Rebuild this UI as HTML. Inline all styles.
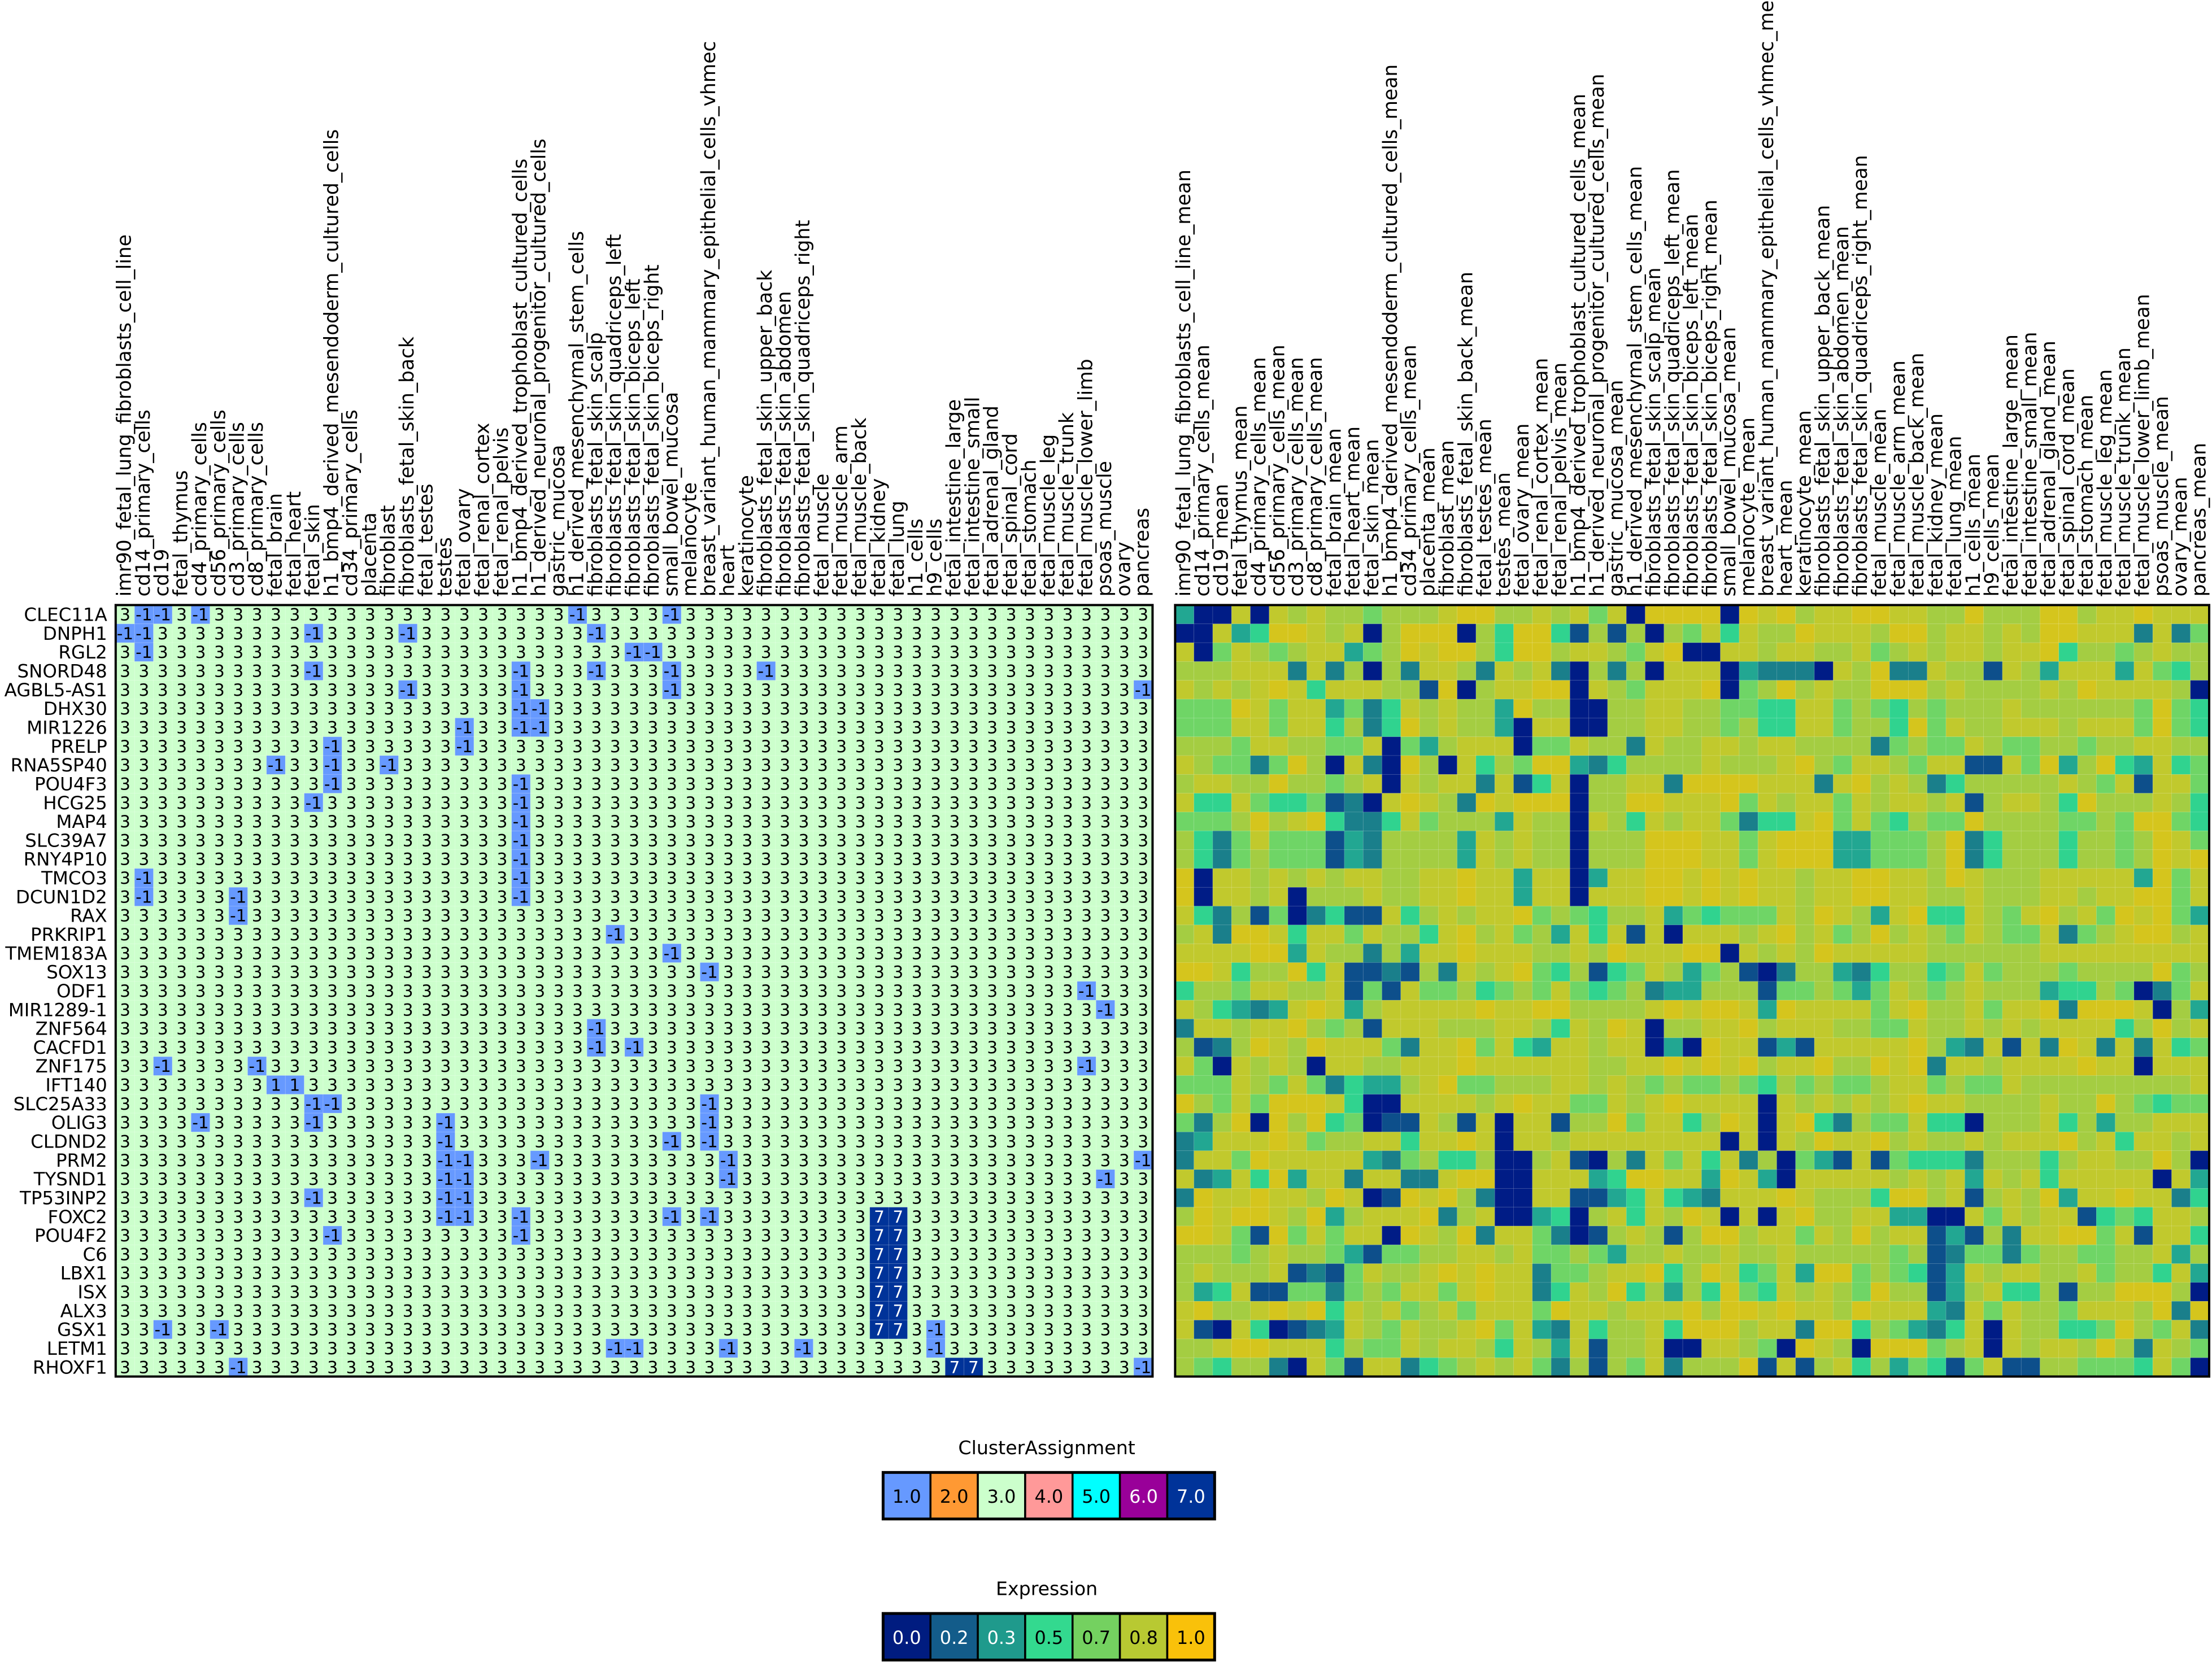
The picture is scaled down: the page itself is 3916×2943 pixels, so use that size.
<!DOCTYPE html>
<html><head><meta charset="utf-8"><style>
html,body{margin:0;padding:0;background:#fff;}
svg{display:block;}
text{font-family:"DejaVu Sans","Liberation Sans",sans-serif;}
</style></head><body>
<svg id="s" xmlns="http://www.w3.org/2000/svg" width="3916" height="2943" viewBox="0 0 1568 1178.4">
<rect width="1568" height="1178.4" fill="#fff"/>
<g id="g"></g>
<text x="742" y="1031" font-size="13.3" text-anchor="middle">ClusterAssignment</text>
<text x="742" y="1131" font-size="13.3" text-anchor="middle">Expression</text>
</svg>
<script>
var cols=["imr90_fetal_lung_fibroblasts_cell_line","cd14_primary_cells","cd19","fetal_thymus","cd4_primary_cells","cd56_primary_cells","cd3_primary_cells","cd8_primary_cells","fetal_brain","fetal_heart","fetal_skin","h1_bmp4_derived_mesendoderm_cultured_cells","cd34_primary_cells","placenta","fibroblast","fibroblasts_fetal_skin_back","fetal_testes","testes","fetal_ovary","fetal_renal_cortex","fetal_renal_pelvis","h1_bmp4_derived_trophoblast_cultured_cells","h1_derived_neuronal_progenitor_cultured_cells","gastric_mucosa","h1_derived_mesenchymal_stem_cells","fibroblasts_fetal_skin_scalp","fibroblasts_fetal_skin_quadriceps_left","fibroblasts_fetal_skin_biceps_left","fibroblasts_fetal_skin_biceps_right","small_bowel_mucosa","melanocyte","breast_variant_human_mammary_epithelial_cells_vhmec","heart","keratinocyte","fibroblasts_fetal_skin_upper_back","fibroblasts_fetal_skin_abdomen","fibroblasts_fetal_skin_quadriceps_right","fetal_muscle","fetal_muscle_arm","fetal_muscle_back","fetal_kidney","fetal_lung","h1_cells","h9_cells","fetal_intestine_large","fetal_intestine_small","fetal_adrenal_gland","fetal_spinal_cord","fetal_stomach","fetal_muscle_leg","fetal_muscle_trunk","fetal_muscle_lower_limb","psoas_muscle","ovary","pancreas"];
var rows=["CLEC11A","DNPH1","RGL2","SNORD48","AGBL5-AS1","DHX30","MIR1226","PRELP","RNA5SP40","POU4F3","HCG25","MAP4","SLC39A7","RNY4P10","TMCO3","DCUN1D2","RAX","PRKRIP1","TMEM183A","SOX13","ODF1","MIR1289-1","ZNF564","CACFD1","ZNF175","IFT140","SLC25A33","OLIG3","CLDND2","PRM2","TYSND1","TP53INP2","FOXC2","POU4F2","C6","LBX1","ISX","ALX3","GSX1","LETM1","RHOXF1"];
var neg={0:[1,2,4,24,29],1:[0,1,10,15,25],2:[1,27,28],3:[10,21,25,29,34],4:[15,21,29,54],5:[21,22],6:[18,21,22],7:[11,18],8:[8,11,14],9:[11,21],10:[10,21],11:[21],12:[21],13:[21],14:[1,21],15:[1,6,21],16:[6],17:[26],18:[29],19:[31],20:[51],21:[52],22:[25],23:[25,27],24:[2,7,51],25:[8,9],26:[10,11,31],27:[4,10,17,31],28:[17,29,31],29:[17,18,22,32,54],30:[17,18,32,52],31:[10,17,18],32:[17,18,21,29,31],33:[11,21],38:[2,5,43],39:[26,27,32,36,43],40:[6,54]};
var sev={32:[40,41],33:[40,41],34:[40,41],35:[40,41],36:[40,41],37:[40,41],38:[40,41],40:[44,45]};
var E=["SNNONOLOLLGLLLOYYLLOLOGONYYYYNYOYLOOYYOOLLYLLLYYLOOYOOO",
"NNOSQYYOLONLYYYNLQYYQBLBLNLGOQOLLYOOOLYYLOOLOLYYOOOTOTG",
"ONGOLGLOOSGLYOYYLQYYLOOLGOYNNOOLOOLLOGLOLOOLOOYQLLGLOLL",
"LLLOOOTOTLNLTOOLTOLOTNLTLNOOONSTTTNOLYTTOLLBOLSOOOSOGQL",
"OLOLOYOQOOOLLBYNLOOYYNOLGOOOYNGLYLOLLYYYLOLLLLOLYOOOOLN",
"GGGYOGOOSGTQOLOLLSYLLNNLLOOLLGGQQOOGLGQLGLLLOLLLLLLGYGQ",
"GGGOOGOOQLTQYLOLLSNOONNLLOOLLGLQQOOGLLQYGOLLOOOLOOOGYGQ",
"LLLGOOLLGGONGSLOOONGGOLLTOLLOOLOOLLLLTGLGGOLGGLLGLLOOLL",
"OLGGTGYLNOTNYLNOQLGYYSTQLLLLOLLLOYLGOOLGOOBBOGYSLYQSOQG",
"LOOLLYLLGLONOLOOTOBQONLLOOTYYYYOOOTOYLOLTQLLLLLOLGOBOOG",
"OQQOGQQGBTNOYOLTYOYYYNLLYYOOOYGOLOOGOLOOLOBLOOLQYLLLOLQ",
"GGGLYLOYQTTQOGLLLSOLLNOLQOLOOGTQQOYGOGQLGGYLLLLGGLGYYGQ",
"LQTGOGGGBSTLLLLSOLOLLNLLLYYYOOGOYYYSSGGGLYTQLLLQLLGLYOG",
"LQTGLGGGBSTLLLLSOLOLLNLLLYYYOOGOYYYSSGGGLYTQLLLQLLGLYOY",
"YNOOLOLOLOOLLOOYOOSOONSOOYYOYOYOOLOOYYOOLYOLLLOOOOOSYGO",
"YNOOLONLLLOLLOOYOOSOONOOOYYOYOYOOLOOYYOOLLOLLLOOLOOYYGO",
"OQTLBGNTQBBOQLOLOOYGLGQLLOSGQGGGOLYOLSOYQQOLGOYLOGYOYGS",
"LOTYYOQOOGOLLQOYLOGLSOQOBONOOOLOYLOGLYLOLGOLGGOTGLOYYLO",
"OOOOYYSOLLTLSOOYOOOLLOLYOOOYYNOLOLYOOOOOLLLLLLOOOOOOOOO",
"YYOQLLYQOBBTBLTOLOYGQLBQGOLSGLBNTLLSTQLLQGOGLLLGLLLLYGL",
"QLLGOOLLOBGBOGGLQGLGOGQGLTSSLLLBGGLGSGOLGLOLLLSQQLGNTGO",
"OLQSTSOYOSLOOOOOYOOYYLLLLOYOYYOSYOOOOGOYLLOGOOYTYYYONLS",
"TOOLOOYLGLBOOOLLLOOLQOLYONLLOOYLOOOLLGGOLLOLOLOOOOQLYLO",
"LBTLYOLYOOOGTOOYGOQSOOLOONSNYOOBSBOOOOOYLSTOBOTYOTOTOQG",
"OGNOLOLNOOLLOOOYOOOOOOLLOOYOYOYLOOYLLYOYTOOLOOOOYOONOOO",
"GGGOLGOGTQSSLOYGGLLLOOLOLGLGGLGQLGLGGLOOGLGGOLLLLLLLLLO",
"YLGOGYYYOQNNOOOOLOYOOGGOLOYOOOONOLOLOLOYOOLLLLOLLYLGQGG",
"GTLYNYLYQGNBBOLBONOOBLLYGOOQLYONOYQTLGGOQQNLLLOQLSLLOOO",
"TSOOOYOGLLOOQOOYONOOLOOOOOOOONONOLYOOYLOLLOLOOOYLOQOOLO",
"TOOGYOOOOOSTGLQQLNNLOBNLTOGOQOTLNGSBOBGQQQTLLLQLOOLLYLN",
"OTSOQYSOOTOOTTOYYNNOOOSQYYOOSYOSNOOOOOLOLOSOLOQOOOOONOS",
"TYOOYOOLYONBYOYLTNNOOBBSQOQSTOOOYOLLLQYYLOBLOLYSOOYOOTQ",
"LYOYYOLYSLOOOYTLONNSQNLOQOLYONONOYLLOOSSNNOGOLOOBQGQOOL",
"YYOGBYGOGOONYOLYTOOGTNBLOLBLYYLOOGOLYLOOBSBLTOOYYGOBOOQ",
"LLLGLOLLGSBGGLLOOLOGGLGSLLOLLOLLOLLLLLGLBTGGTGLLGGLLOSL",
"LOLLLOBTBGOLLOYOYOOTGGLOOYQLYOQGOSYYGLGQBSOLOOLLOGLLQOS",
"LSQOBBGGTGLGOOGOYOOTQOLYQLSLQYGQOLOLGYLLBSLOQQLBLLYYYLN",
"OYLLOYOYQOLOGLOGOOOGYOOLOOOYLYYOYOOLYOOOSTOGOLLGOOOLYTY",
"OBNOQNBTSOLGOLLOYGOSTOQLLOQYYYLOOTYYQLGSTQONOLLQQGYLGOT",
"LLOYYOOOQLGGOLOOLQOLSOBLLONNOOLGNYOLNYYYGLONOLOOLYLTOLG",
"LGQLLTNOGBOOTQGLOLOGTLBLGOTLLLYBOBLOQLSGQBGOBBLLGGGQOGN"];
var C={N:"#001c86",B:"#0d4f8b",T:"#1a7f8b",S:"#22a792",Q:"#30d38f",G:"#6fd566",L:"#a4cd42",O:"#c1c92d",Y:"#d5c51d"};
var h=[];
var lx=82,cw=(817-82)/55,y0=429,rh=(976-429)/41,rx=833,rw=(1566-833)/55;
for(var r=0;r<41;r++){
 var y=y0+r*rh;
 h.push('<text x="76" y="'+(y+rh/2+4.6).toFixed(2)+'" font-size="13" text-anchor="end">'+rows[r]+'</text>');
 var ng=neg[r]||[],sv=sev[r]||[];
 for(var c=0;c<55;c++){
  var x=lx+c*cw,v="3",f="#ccffcc",tc="#000";
  if(ng.indexOf(c)>=0){v=(r==25)?"1":"-1";f="#6699ff";}
  if(sv.indexOf(c)>=0){v="7";f="#003399";tc="#fff";}
  h.push('<rect x="'+x.toFixed(2)+'" y="'+y.toFixed(2)+'" width="'+(cw+0.05).toFixed(2)+'" height="'+(rh+0.05).toFixed(2)+'" fill="'+f+'" stroke="rgba(255,255,255,0.25)" stroke-width="0.3"/>');
  h.push('<text x="'+(x+cw/2).toFixed(2)+'" y="'+(y+rh/2+4.2).toFixed(2)+'" font-size="11.8" text-anchor="middle" fill="'+tc+'">'+v+'</text>');
  var e=E[r].charAt(c)||"O";
  h.push('<rect x="'+(rx+c*rw).toFixed(2)+'" y="'+y.toFixed(2)+'" width="'+(rw+0.05).toFixed(2)+'" height="'+(rh+0.05).toFixed(2)+'" fill="'+C[e]+'" stroke="rgba(255,255,255,0.2)" stroke-width="0.3"/>');
 }
}
h.push('<rect x="'+lx+'" y="'+y0+'" width="'+(cw*55)+'" height="'+(rh*41)+'" fill="none" stroke="#000" stroke-width="1.6"/>');
h.push('<rect x="'+rx+'" y="'+y0+'" width="'+(rw*55)+'" height="'+(rh*41)+'" fill="none" stroke="#000" stroke-width="1.6"/>');
for(var c=0;c<55;c++){
 var xc=lx+(c+0.5)*cw+4;
 h.push('<text transform="translate('+xc.toFixed(2)+',423) rotate(-90)" font-size="13.8">'+cols[c]+'</text>');
 var xr=rx+(c+0.5)*rw+4;
 h.push('<text transform="translate('+xr.toFixed(2)+',423) rotate(-90)" font-size="13.8">'+cols[c]+'_mean</text>');
}
function leg(y,items){
 var x0=626,w=(861-626)/7;
 for(var i=0;i<7;i++){
  h.push('<rect x="'+(x0+i*w).toFixed(2)+'" y="'+y+'" width="'+w.toFixed(2)+'" height="33" fill="'+items[i][1]+'" stroke="#000" stroke-width="1.4"/>');
  h.push('<text x="'+(x0+i*w+w/2).toFixed(2)+'" y="'+(y+21.5)+'" font-size="12.8" text-anchor="middle" fill="'+items[i][2]+'">'+items[i][0]+'</text>');
 }
 h.push('<rect x="'+x0+'" y="'+y+'" width="'+(w*7).toFixed(2)+'" height="33" fill="none" stroke="#000" stroke-width="2"/>');
}
leg(1044,[["1.0","#6699ff","#000"],["2.0","#ff9933","#000"],["3.0","#ccffcc","#000"],["4.0","#ff9999","#000"],["5.0","#00ffff","#000"],["6.0","#990099","#fff"],["7.0","#003399","#fff"]]);
leg(1144,[["0.0","#001c80","#fff"],["0.2","#135c8a","#fff"],["0.3","#1f9a8c","#fff"],["0.5","#33d98f","#000"],["0.7","#74d160","#000"],["0.8","#b8c932","#000"],["1.0","#f9c10a","#000"]]);
document.getElementById("g").innerHTML=h.join("");
</script>
</body></html>
